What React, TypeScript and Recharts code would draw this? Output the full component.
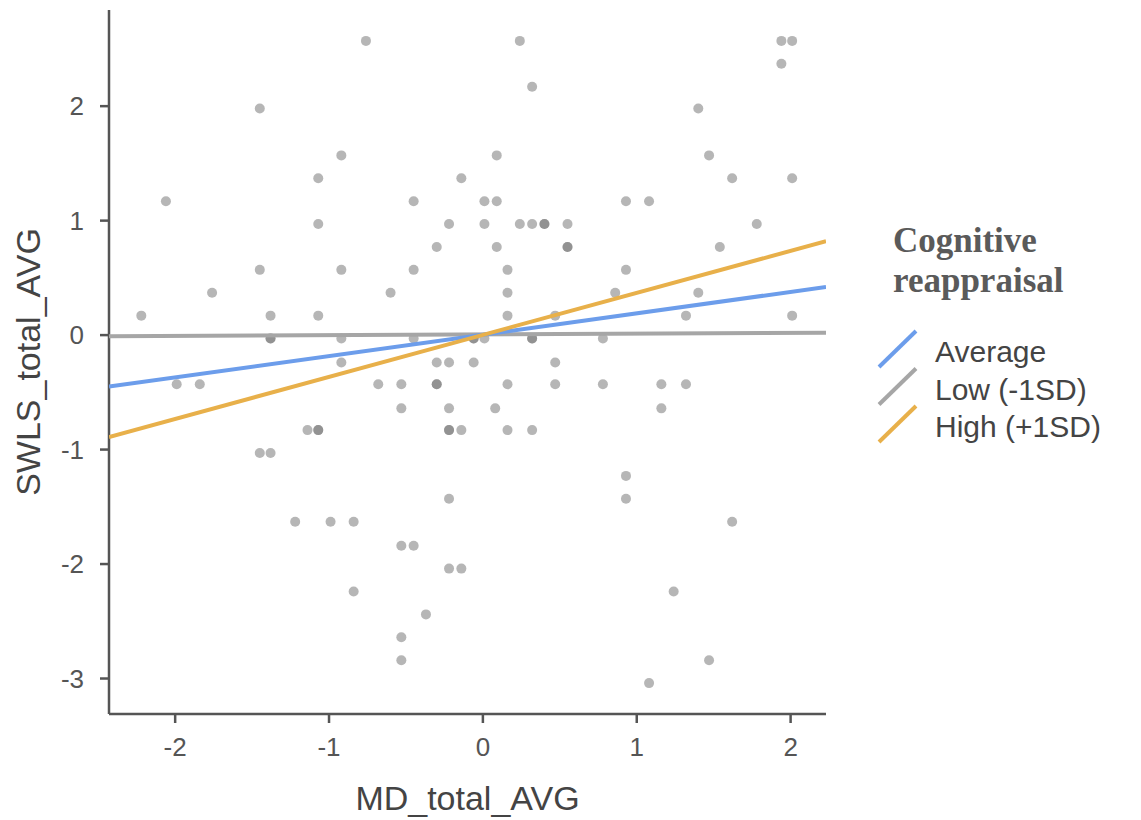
import { Scatter, ScatterChart, XAxis, YAxis } from "recharts"

// raw scatter (MD_total_AVG vs SWLS_total_AVG)
const mdValues = [
  -0.76, 0.24, 1.94, 2.01,
  1.94,
  0.32,
  -1.45, 1.4,
  -0.92, 0.09, 1.47,
  -1.07, -0.14, 1.62, 2.01,
  -2.06, -0.45, 0.01, 0.09, 0.93, 1.08,
  -1.07, -0.22, 0.01, 0.24, 0.32, 0.4, 0.4, 0.55, 1.78,
  -0.3, 0.09, 0.55, 0.55, 1.54,
  -1.45, -0.92, -0.45, 0.16, 0.93,
  -1.76, -0.6, 0.16, 0.86, 1.4,
  -2.22, -1.38, -1.07, 0.16, 0.47, 1.32, 2.01,
  -1.38, -1.38, -0.92, -0.45, -0.06, -0.06, 0.01, 0.32, 0.32, 0.78,
  -0.92, -0.3, -0.22, -0.06, 0.47,
  -1.99, -1.84, -0.68, -0.53, -0.3, -0.3, 0.16, 0.47, 0.78, 1.16, 1.32,
  -0.53, -0.22, 0.08, 1.16,
  -1.14, -1.07, -1.07, -0.22, -0.22, -0.14, 0.16, 0.32,
  -1.45, -1.38,
  0.93,
  -0.22, 0.93,
  -1.22, -0.99, -0.84, 1.62,
  -0.53, -0.45,
  -0.22, -0.14,
  -0.84, 1.24,
  -0.37,
  -0.53,
  -0.53, 1.47,
  1.08,
]

const swlsValues = [
  2.57, 2.57, 2.57, 2.57,
  2.37,
  2.17,
  1.98, 1.98,
  1.57, 1.57, 1.57,
  1.37, 1.37, 1.37, 1.37,
  1.17, 1.17, 1.17, 1.17, 1.17, 1.17,
  0.97, 0.97, 0.97, 0.97, 0.97, 0.97, 0.97, 0.97, 0.97,
  0.77, 0.77, 0.77, 0.77, 0.77,
  0.57, 0.57, 0.57, 0.57, 0.57,
  0.37, 0.37, 0.37, 0.37, 0.37,
  0.17, 0.17, 0.17, 0.17, 0.17, 0.17, 0.17,
  -0.03, -0.03, -0.03, -0.03, -0.03, -0.03, -0.03, -0.03, -0.03, -0.03,
  -0.24, -0.24, -0.24, -0.24, -0.24,
  -0.43, -0.43, -0.43, -0.43, -0.43, -0.43, -0.43, -0.43, -0.43, -0.43, -0.43,
  -0.64, -0.64, -0.64, -0.64,
  -0.83, -0.83, -0.83, -0.83, -0.83, -0.83, -0.83, -0.83,
  -1.03, -1.03,
  -1.23,
  -1.43, -1.43,
  -1.63, -1.63, -1.63, -1.63,
  -1.84, -1.84,
  -2.04, -2.04,
  -2.24, -2.24,
  -2.44,
  -2.64,
  -2.84, -2.84,
  -3.04,
]

// simple slopes: endpoints at the plot edges
const lineX = [-2.43, 2.23]
const averageY = [-0.45, 0.42]
const lowY = [-0.01, 0.02]
const highY = [-0.89, 0.82]

const xTicks = [-2, -1, 0, 1, 2]
const yTicks = [-3, -2, -1, 0, 1, 2]

const legendTitle = ["Cognitive", "reappraisal"]
const legendLabels = ["Average", "Low (-1SD)", "High (+1SD)"]
const legendColors = ["#6c9deb", "#a6a6a6", "#e8b04a"]

const points = mdValues.map((x, i) => ({ x, y: swlsValues[i] }))
const toLine = (ys: number[]) => lineX.map((x, i) => ({ x, y: ys[i] }))

const SANS = "'Liberation Sans', Arial, sans-serif"

const Dot = (props: any) => {
  const { cx, cy } = props
  if (cx == null || cy == null) return null
  return <circle cx={cx} cy={cy} r={5} fill="#6e6e6e" fillOpacity={0.5} />
}

const YTitle = (props: any) => {
  const vb = props.viewBox || {}
  const cx = 28
  const cy = vb.y + vb.height / 2
  return (
    <text
      x={cx}
      y={cy}
      transform={`rotate(-90 ${cx} ${cy})`}
      textAnchor="middle"
      dominantBaseline="central"
      fontFamily={SANS}
      fontSize={34}
      fill="#444"
    >
      SWLS_total_AVG
    </text>
  )
}

const XTitle = (props: any) => {
  const vb = props.viewBox || {}
  return (
    <text x={vb.x + vb.width / 2} y={810} textAnchor="middle" fontFamily={SANS} fontSize={34} fill="#444">
      MD_total_AVG
    </text>
  )
}

const LegendBox = () => (
  <svg width={270} height={240}>
    {legendTitle.map((t, i) => (
      <text
        key={t}
        x={33}
        y={42 + i * 40}
        fontFamily="'Liberation Serif', 'Times New Roman', serif"
        fontWeight="bold"
        fontSize={35}
        fill="#5a5a5a"
      >
        {t}
      </text>
    ))}
    {legendLabels.map((label, i) => (
      <g key={label}>
        <line
          x1={19}
          y1={157 + i * 37.5}
          x2={56}
          y2={121 + i * 37.5}
          stroke={legendColors[i]}
          strokeWidth={4}
        />
        <text x={75} y={152 + i * 37.5} fontFamily={SANS} fontSize={30} fill="#444">
          {label}
        </text>
      </g>
    ))}
  </svg>
)

export default function App() {
  return (
    <div style={{ position: "absolute", left: 0, top: 0, width: 1141, height: 820, background: "#fff" }}>
      <ScatterChart width={1141} height={820} margin={{ top: 10, right: 315, bottom: 0, left: 0 }}>
        <XAxis
          type="number"
          dataKey="x"
          domain={[-2.43, 2.23]}
          ticks={xTicks}
          allowDataOverflow
          height={106}
          axisLine={{ stroke: "#555", strokeWidth: 2.5 }}
          tickLine={{ stroke: "#555", strokeWidth: 2.5 }}
          tickSize={9}
          tickMargin={15}
          tick={{ fontFamily: SANS, fontSize: 26, fill: "#555" }}
          label={<XTitle />}
        />
        <YAxis
          type="number"
          dataKey="y"
          domain={[-3.31, 2.84]}
          ticks={yTicks}
          allowDataOverflow
          width={109}
          axisLine={{ stroke: "#555", strokeWidth: 2.5 }}
          tickLine={{ stroke: "#555", strokeWidth: 2.5 }}
          tickSize={9}
          tickMargin={16}
          tick={{ fontFamily: SANS, fontSize: 26, fill: "#555" }}
          label={<YTitle />}
        />
        <Scatter data={points} shape={<Dot />} legendType="none" isAnimationActive={false} />
        <Scatter
          data={toLine(lowY)}
          line={{ stroke: legendColors[1], strokeWidth: 4 }}
          shape={() => <g />}
          legendType="none"
          isAnimationActive={false}
        />
        <Scatter
          data={toLine(averageY)}
          line={{ stroke: legendColors[0], strokeWidth: 4 }}
          shape={() => <g />}
          legendType="none"
          isAnimationActive={false}
        />
        <Scatter
          data={toLine(highY)}
          line={{ stroke: legendColors[2], strokeWidth: 4 }}
          shape={() => <g />}
          legendType="none"
          isAnimationActive={false}
        />
      </ScatterChart>
      <div style={{ position: "absolute", left: 860, top: 210 }}>
        <LegendBox />
      </div>
    </div>
  )
}
